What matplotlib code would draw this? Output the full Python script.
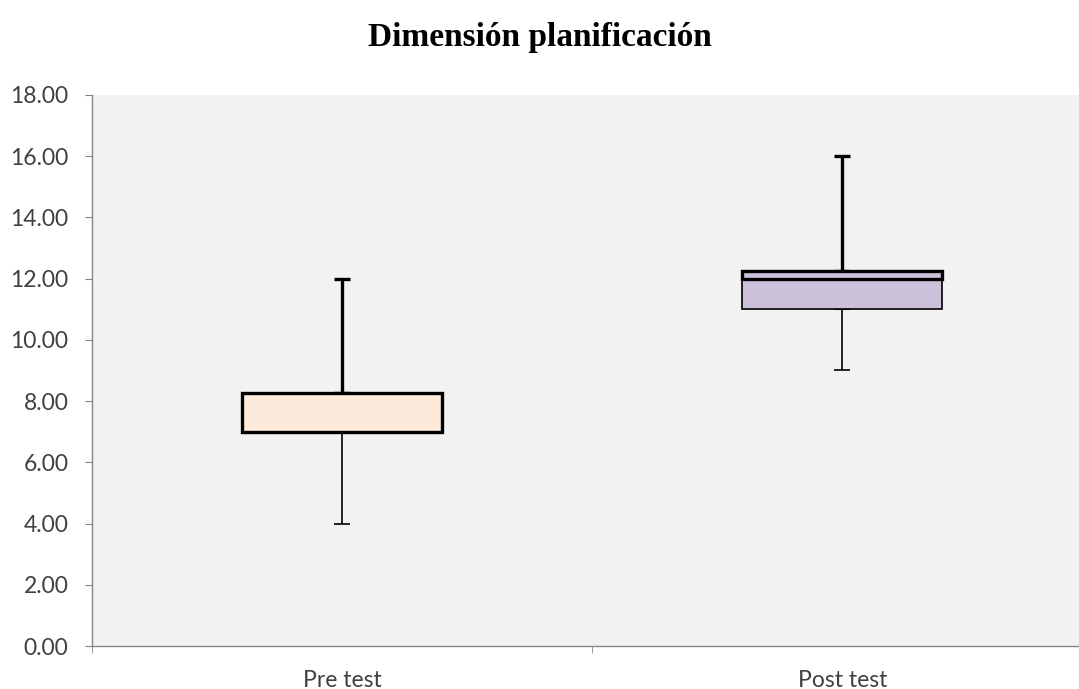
import matplotlib.pyplot as plt
import numpy as np

# Datos del diagrama de caja
grupos = ["Pre test", "Post test"]
minimo = [4.0, 9.0]
q1 = [7.0, 11.0]
mediana = [7.0, 12.0]
q3 = [8.25, 12.25]
maximo = [12.0, 16.0]
colores = ["#FDEADA", "#CCC1DA"]

fig = plt.figure(figsize=(10.79, 6.89), dpi=100)
ax = fig.add_axes([0.0853, 0.0624, 0.927, 0.800])
ax.set_facecolor("#F2F2F2")

x = np.arange(len(grupos))
ancho = 0.4

# Bigotes (inferior delgado, superior grueso)
for i in x:
    ax.errorbar(i, q1[i], yerr=[[q1[i] - minimo[i]], [0]], fmt="none",
                ecolor="black", elinewidth=1.2, capsize=6, capthick=1.2, zorder=2)
    ax.errorbar(i, q3[i], yerr=[[0], [maximo[i] - q3[i]]], fmt="none",
                ecolor="black", elinewidth=2.4, capsize=6, capthick=2.4, zorder=2)

# Caja: Q1 -> mediana (borde delgado), mediana -> Q3 (borde grueso)
ax.bar(x, np.subtract(mediana, q1), bottom=q1, width=ancho, color=colores,
       edgecolor="black", linewidth=1.2, zorder=3)
ax.bar(x, np.subtract(q3, mediana), bottom=mediana, width=ancho, color=colores,
       edgecolor="black", linewidth=2.4, zorder=4)

ax.set_xlim(-0.5, 1.5)
ax.set_ylim(0, 18)
ax.set_yticks(np.arange(0, 19, 2))
ax.set_yticklabels([f"{v:.2f}" for v in np.arange(0, 19, 2)])
ax.set_xticks(x)
ax.set_xticklabels(grupos)
ax.set_xticks([-0.5, 0.5, 1.5], minor=True)

for s in ["top", "right"]:
    ax.spines[s].set_visible(False)
for s in ["left", "bottom"]:
    ax.spines[s].set_color("#868686")
    ax.spines[s].set_linewidth(1.0)

ax.tick_params(axis="y", which="major", length=5, color="#868686", pad=12,
               labelsize=16.5, labelcolor="#404040")
ax.tick_params(axis="x", which="major", length=0, pad=17, labelsize=16.5,
               labelcolor="#404040")
ax.tick_params(axis="x", which="minor", length=5, color="#868686")
for lbl in ax.get_xticklabels() + ax.get_yticklabels():
    lbl.set_family(["Lato", "DejaVu Sans"])

fig.text(0.5, 0.945, "Dimensión planificación", ha="center", va="center",
         fontsize=24, fontweight="bold", family=["Liberation Serif", "DejaVu Serif"])

fig.savefig("out.png", dpi=100)
